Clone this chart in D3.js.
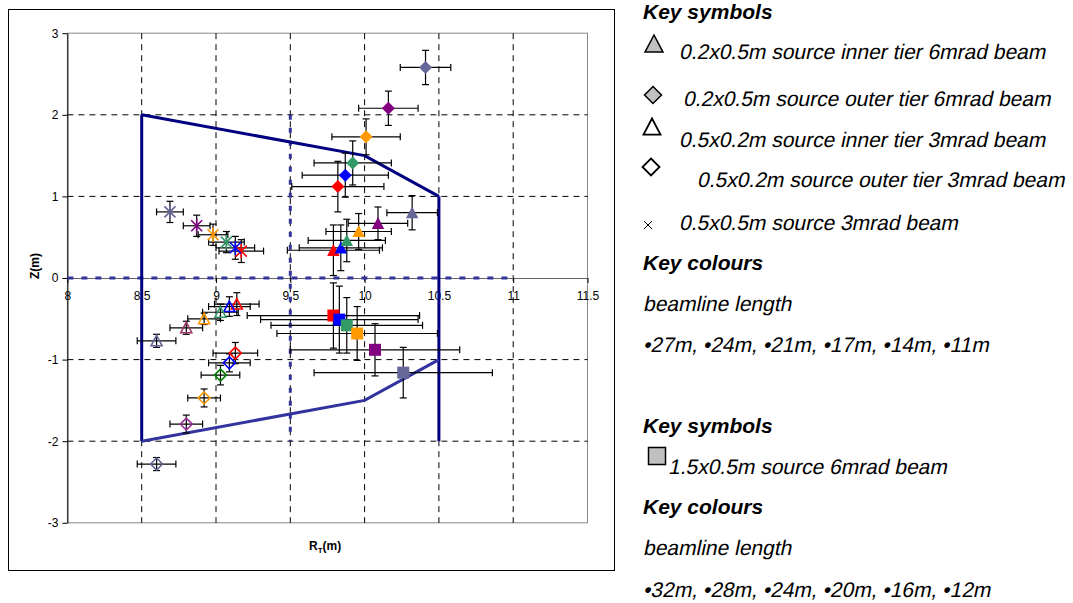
<!DOCTYPE html>
<html>
<head>
<meta charset="utf-8">
<script src="https://cdn.jsdelivr.net/npm/d3@7"></script>
<style>
  body { margin: 0; background: #fff; }
  svg { display: block; font-family: "Liberation Sans", Arial, sans-serif; }
</style>
</head>
<body>
<script>
// beamline lengths and their colours
const beamLengths3 = ["27m", "24m", "21m", "17m", "14m", "11m"];
const beamLengths6 = ["32m", "28m", "24m", "20m", "16m", "12m"];
const colours = ["#FF0000", "#0000FF", "#339966", "#FF9900", "#800080", "#666699"];
const coloursOpenTri = ["#FF0000", "#0000FF", "#339966", "#FF9900", "#993366", "#666699"];
const coloursOpenDia = ["#FF0000", "#0000FF", "#008000", "#FF9900", "#993399", "#666699"];

// [R, Z, errR, errZ] in metres, ordered 27m .. 11m
const inner6mrad = [
  [9.79, 0.34, 0.31, 0.31],
  [9.84, 0.37, 0.28, 0.28],
  [9.88, 0.46, 0.26, 0.26],
  [9.96, 0.57, 0.22, 0.22],
  [10.09, 0.67, 0.20, 0.20],
  [10.32, 0.80, 0.17, 0.21]
];
const outer6mrad = [
  [9.82, 1.12, 0.31, 0.31],
  [9.87, 1.26, 0.29, 0.27],
  [9.92, 1.41, 0.26, 0.27],
  [10.01, 1.73, 0.23, 0.22],
  [10.16, 2.08, 0.20, 0.21],
  [10.41, 2.58, 0.17, 0.21]
];
const inner3mrad = [
  [9.14, -0.32, 0.15, 0.14],
  [9.09, -0.35, 0.14, 0.12],
  [9.03, -0.42, 0.12, 0.10],
  [8.92, -0.50, 0.11, 0.07],
  [8.80, -0.61, 0.11, 0.08],
  [8.60, -0.77, 0.13, 0.08]
];
const outer3mrad = [
  [9.13, -0.92, 0.15, 0.13],
  [9.09, -1.04, 0.14, 0.11],
  [9.03, -1.19, 0.13, 0.12],
  [8.92, -1.47, 0.11, 0.11],
  [8.80, -1.79, 0.11, 0.11],
  [8.60, -2.28, 0.13, 0.08]
];
const square3mrad = [
  [9.17, 0.33, 0.15, 0.14],
  [9.13, 0.37, 0.13, 0.14],
  [9.07, 0.44, 0.12, 0.13],
  [8.98, 0.53, 0.10, 0.13],
  [8.87, 0.64, 0.09, 0.13],
  [8.69, 0.81, 0.09, 0.13]
];
// 1.5x0.5m source, ordered 32m .. 12m
const wide6mrad = [
  [9.79, -0.46, 0.58, 0.40],
  [9.83, -0.51, 0.53, 0.41],
  [9.88, -0.58, 0.51, 0.34],
  [9.95, -0.68, 0.54, 0.33],
  [10.07, -0.88, 0.57, 0.32],
  [10.26, -1.16, 0.60, 0.31]
];

// detector outline
const outlineTop = [[8.5, 2], [10, 1.5], [10.5, 1]];
const outlineBottom = [[8.5, -2], [10, -1.5], [10.5, -1]];
const outlineLeft = [[8.5, 2], [8.5, -2]];
const outlineRight = [[10.5, 1], [10.5, -2]];
const midLine = [[9.5, 2], [9.5, -2]];
const zeroLine = [[8, 0], [11, 0]];

const rTicks = [8, 8.5, 9, 9.5, 10, 10.5, 11, 11.5];
const zTicks = [-3, -2, -1, 0, 1, 2, 3];
const rGrid = [8.5, 9, 9.5, 10, 10.5, 11];
const zGrid = [-2, -1, 1, 2];

const width = 1073, height = 603;
const svg = d3.select("body").append("svg")
  .attr("width", width).attr("height", height);

svg.append("rect").attr("width", width).attr("height", height).attr("fill", "#fff");
svg.append("rect").attr("x", 8.5).attr("y", 9.5).attr("width", 606).attr("height", 561)
  .attr("fill", "none").attr("stroke", "#000");

const x = d3.scaleLinear().domain([8, 11.5]).range([67.4, 587.5]);
const y = d3.scaleLinear().domain([-3, 3]).range([522.8, 33.2]);

// plot border
svg.append("rect")
  .attr("x", x(8)).attr("y", y(3))
  .attr("width", x(11.5) - x(8)).attr("height", y(-3) - y(3))
  .attr("fill", "none").attr("stroke", "#888");

// grid
svg.append("g").selectAll("line").data(rGrid).join("line")
  .attr("x1", d => x(d)).attr("x2", d => x(d))
  .attr("y1", y(3)).attr("y2", y(-3))
  .attr("stroke", "#000").attr("stroke-dasharray", "6,5");
svg.append("g").selectAll("line").data(zGrid).join("line")
  .attr("x1", x(8)).attr("x2", x(11.5))
  .attr("y1", d => y(d)).attr("y2", d => y(d))
  .attr("stroke", "#000").attr("stroke-dasharray", "6,5");

// axes
const yAxis = svg.append("g")
  .attr("transform", `translate(${x(8)},0)`)
  .call(d3.axisLeft(y).tickValues(zTicks).tickSize(5).tickSizeOuter(0).tickPadding(4)
    .tickFormat(d => String(d)));
const xAxis = svg.append("g")
  .attr("transform", `translate(0,${y(0)})`)
  .call(d3.axisBottom(x).tickValues(rTicks).tickSize(5).tickSizeOuter(0).tickPadding(8)
    .tickFormat(d => String(d)));
[yAxis, xAxis].forEach(g => {
  g.selectAll("text").attr("font-size", 12).attr("fill", "#000")
    .attr("font-family", "Liberation Sans, Arial, sans-serif");
  g.selectAll("line").attr("stroke", "#000");
});
yAxis.select(".domain").attr("stroke", "#000");
xAxis.select(".domain").attr("stroke", "#666");

svg.append("text")
  .attr("transform", `translate(39,266) rotate(-90)`)
  .attr("text-anchor", "middle").attr("font-size", 12).attr("font-weight", "bold")
  .text("Z(m)");
const rLabel = svg.append("text")
  .attr("x", 309).attr("y", 550).attr("font-size", 12).attr("font-weight", "bold");
rLabel.append("tspan").text("R");
rLabel.append("tspan").attr("font-size", 8).attr("dy", 3).text("T");
rLabel.append("tspan").attr("dy", -3).text("(m)");

// outline
const line = d3.line().x(d => x(d[0])).y(d => y(d[1]));
const navy = "#000080";
svg.append("path").attr("d", line(zeroLine)).attr("fill", "none")
  .attr("stroke", "#333399").attr("stroke-width", 3).attr("stroke-dasharray", "6,8");
svg.append("path").attr("d", line(midLine)).attr("fill", "none")
  .attr("stroke", "#333399").attr("stroke-width", 3).attr("stroke-dasharray", "5,8");
[outlineTop, outlineLeft, outlineRight].forEach(p => {
  svg.append("path").attr("d", line(p)).attr("fill", "none")
    .attr("stroke", navy).attr("stroke-width", 3);
});
svg.append("path").attr("d", line(outlineBottom)).attr("fill", "none")
  .attr("stroke", "#3333A0").attr("stroke-width", 3);

// marker shapes
const triPath = (w) => `M0,${-w * 0.5}L${w / 2},${w * 0.45}L${-w / 2},${w * 0.45}Z`;
const diaPath = (r) => `M0,${-r}L${r},0L0,${r}L${-r},0Z`;
const sqPath = (s) => `M${-s / 2},${-s / 2}h${s}v${s}h${-s}Z`;
const starPath = (s) => `M${-s},${-s}L${s},${s}M${-s},${s}L${s},${-s}M0,${-s * 1.3}L0,${s * 1.3}`;
const crossPath = (s) => `M${-s},${-s}L${s},${s}M${-s},${s}L${s},${-s}`;

function errorBars(data) {
  const g = svg.append("g").attr("stroke", "#000").attr("stroke-width", 1.2);
  const cap = 3.5;
  data.forEach(([r, z, er, ez]) => {
    g.append("line").attr("x1", x(r - er)).attr("x2", x(r + er)).attr("y1", y(z)).attr("y2", y(z));
    g.append("line").attr("x1", x(r)).attr("x2", x(r)).attr("y1", y(z - ez)).attr("y2", y(z + ez));
    g.append("line").attr("x1", x(r - er)).attr("x2", x(r - er)).attr("y1", y(z) - cap).attr("y2", y(z) + cap);
    g.append("line").attr("x1", x(r + er)).attr("x2", x(r + er)).attr("y1", y(z) - cap).attr("y2", y(z) + cap);
    g.append("line").attr("x1", x(r) - cap).attr("x2", x(r) + cap).attr("y1", y(z - ez)).attr("y2", y(z - ez));
    g.append("line").attr("x1", x(r) - cap).attr("x2", x(r) + cap).attr("y1", y(z + ez)).attr("y2", y(z + ez));
  });
}

function markers(data, shape, cols, filled, sw) {
  svg.append("g").selectAll("path").data(data).join("path")
    .attr("transform", d => `translate(${x(d[0])},${y(d[1])})`)
    .attr("d", shape)
    .attr("fill", (d, i) => filled ? cols[i] : "none")
    .attr("stroke", (d, i) => filled ? "none" : cols[i])
    .attr("stroke-width", sw);
}

const series = [
  [square3mrad, starPath(5.5), colours, false, 1.6],
  [inner3mrad, triPath(11), coloursOpenTri, false, 1.6],
  [outer3mrad, diaPath(6), coloursOpenDia, false, 1.6],
  [wide6mrad, sqPath(12), colours, true, 0],
  [inner6mrad, triPath(12.5), colours, true, 0],
  [outer6mrad, diaPath(6.5), colours, true, 0]
];
series.forEach(s => errorBars(s[0]));
series.forEach(s => markers(...s));

// legend
const lg = svg.append("g").attr("font-size", 21).attr("fill", "#000");
const legendTexts = [
  [643, 19, "Key symbols", true],
  [679, 59, "0.2x0.5m source inner tier 6mrad beam", false],
  [683, 106, "0.2x0.5m source outer tier 6mrad beam", false],
  [679, 147, "0.5x0.2m source inner tier 3mrad beam", false],
  [697, 187, "0.5x0.2m source outer tier 3mrad beam", false],
  [679, 230, "0.5x0.5m source 3mrad beam", false],
  [643, 270, "Key colours", true],
  [643, 311, "beamline length", false],
  [643, 352, beamLengths3.map(d => "\u2022" + d).join(", "), false],
  [643, 433, "Key symbols", true],
  [668, 474, "1.5x0.5m source 6mrad beam", false],
  [643, 514, "Key colours", true],
  [643, 555, "beamline length", false],
  [643, 597, beamLengths6.map(d => "\u2022" + d).join(", "), false]
];
// regular italic face is not available, so slant the plain text by hand
lg.selectAll("text").data(legendTexts).join("text")
  .attr("transform", d => d[3] ? null : `translate(${d[0]},${d[1]}) skewX(-12)`)
  .attr("x", d => d[3] ? d[0] : 0).attr("y", d => d[3] ? d[1] : 0)
  .attr("font-weight", d => d[3] ? "bold" : "normal")
  .attr("font-style", d => d[3] ? "italic" : "normal")
  .text(d => d[2]);

const legendSymbols = [
  [654, 44, triPath(18), "#C0C0C0", "#000", 1.5],
  [653, 95, diaPath(8.5), "#C0C0C0", "#000", 1.5],
  [652, 127, triPath(17), "#fff", "#000", 1.8],
  [651, 167, diaPath(8.5), "#fff", "#000", 1.8],
  [648, 225, crossPath(4), "none", "#000", 1],
  [657, 456, sqPath(17), "#C0C0C0", "#000", 1.5]
];
svg.append("g").selectAll("path").data(legendSymbols).join("path")
  .attr("transform", d => `translate(${d[0]},${d[1]})`)
  .attr("d", d => d[2]).attr("fill", d => d[3]).attr("stroke", d => d[4])
  .attr("stroke-width", d => d[5]);
</script>
</body>
</html>
